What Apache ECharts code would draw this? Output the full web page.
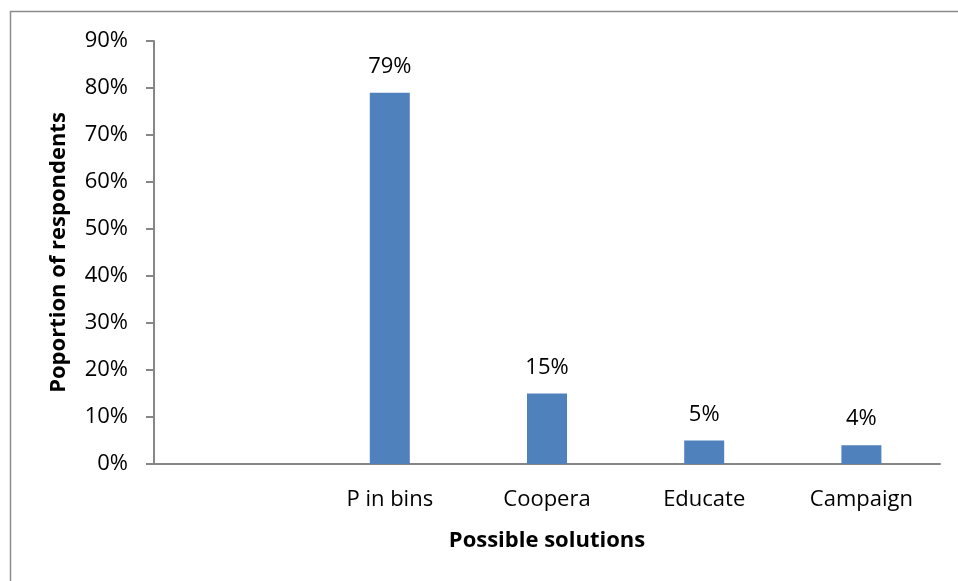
<!DOCTYPE html>
<html>
<head>
<meta charset="utf-8">
<script src="https://cdn.jsdelivr.net/npm/echarts@6/dist/echarts.min.js"></script>
<style>
  html, body { margin: 0; padding: 0; background: #fff; }
  #chart { width: 958px; height: 581px; }
</style>
</head>
<body>
<div id="chart"></div>
<script>
// Survey: proposed solutions and share of respondents choosing each
const categories = ['', 'P in bins', 'Coopera', 'Educate', 'Campaign'];
const shares = [null, 79, 15, 5, 4];
const yTicks = [0, 10, 20, 30, 40, 50, 60, 70, 80, 90];

const FONT = '"Open Sans", "Noto Sans", sans-serif';
const chart = echarts.init(document.getElementById('chart'));

chart.setOption({
  animation: false,
  backgroundColor: '#ffffff',
  textStyle: { fontFamily: FONT, color: '#000' },
  graphic: [{
    type: 'rect',
    shape: { x: 10.5, y: 11.5, width: 1000, height: 700 },
    style: { fill: 'none', stroke: '#8c8c8c', lineWidth: 1.5 },
    silent: true
  }],
  grid: { left: 154, right: 18, top: 41, bottom: 117, containLabel: false },
  xAxis: {
    type: 'category',
    data: categories,
    name: 'Possible solutions',
    nameLocation: 'middle',
    nameGap: 66,
    nameTextStyle: { fontFamily: FONT, fontSize: 22, fontWeight: 'bold', color: '#000' },
    axisLine: { lineStyle: { color: '#868686', width: 2 } },
    axisTick: { show: false },
    axisLabel: { fontFamily: FONT, fontSize: 22, color: '#000', margin: 25, interval: 0 }
  },
  yAxis: {
    type: 'value',
    min: yTicks[0],
    max: yTicks[yTicks.length - 1],
    interval: 10,
    name: 'Poportion of respondents',
    nameLocation: 'middle',
    nameGap: 84,
    nameTextStyle: { fontFamily: FONT, fontSize: 22, fontWeight: 'bold', color: '#000' },
    axisLine: { show: true, lineStyle: { color: '#868686', width: 2 } },
    axisTick: { show: true, length: 8, lineStyle: { color: '#868686', width: 2 } },
    splitLine: { show: false },
    axisLabel: { fontFamily: FONT, fontSize: 22, color: '#000', margin: 26, formatter: '{value}%' }
  },
  series: [{
    type: 'bar',
    data: shares,
    barWidth: 40,
    itemStyle: { color: '#4f81bd' },
    label: {
      show: true,
      position: 'top',
      distance: 15,
      fontFamily: FONT,
      fontSize: 22,
      color: '#000',
      formatter: p => p.value + '%'
    }
  }]
});
</script>
</body>
</html>
